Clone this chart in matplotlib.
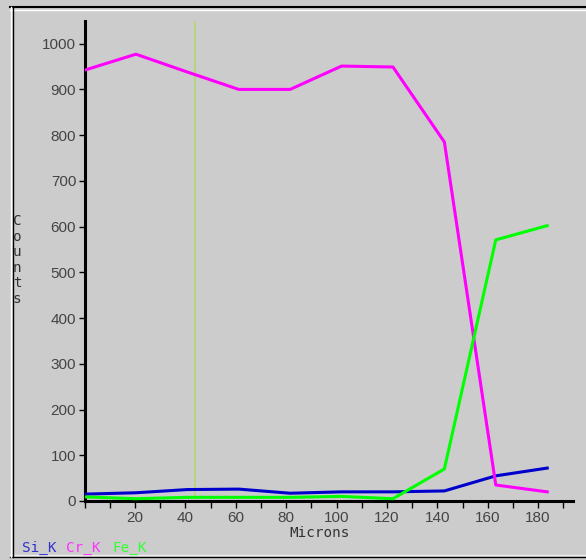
import matplotlib.pyplot as plt
from matplotlib.lines import Line2D

microns = [0, 20.4, 40.8, 61.2, 81.6, 102, 122.4, 142.8, 163.2, 183.6]
si_k = [15, 18, 25, 26, 17, 20, 20, 22, 55, 72]
cr_k = [942, 977, 938, 900, 900, 951, 949, 785, 35, 20]
fe_k = [9, 5, 8, 8, 8, 10, 5, 70, 571, 602]
marker_x = 43.8

bg = '#cccccc'
fig = plt.figure(figsize=(5.86, 5.60), dpi=100, facecolor=bg)
ax = fig.add_axes([84.5 / 586, 59 / 560, 488.9 / 586, 480.2 / 560], facecolor=bg)

ax.plot(microns, si_k, color='#0000cc', lw=2.2, zorder=3)
ax.plot(microns, cr_k, color='#ff00ff', lw=2.2, zorder=3)
ax.plot(microns, fe_k, color='#00ff00', lw=2.2, zorder=3)
ax.axvline(marker_x, color='#b5d67e', lw=1.4, zorder=2)

ax.set_xlim(0, 194)
ax.set_ylim(0, 1050)
ax.set_xticks(range(0, 191, 10))
ax.set_xticklabels([str(v) if v % 20 == 0 and v > 0 else '' for v in range(0, 191, 10)])
ax.set_yticks(range(0, 1001, 100))

for s in ['top', 'right']:
    ax.spines[s].set_visible(False)
for s in ['left', 'bottom']:
    ax.spines[s].set_linewidth(2.2)
    ax.spines[s].set_color('black')
ax.tick_params(axis='both', colors='#444444', labelsize=11, width=1, length=4, pad=2)
ax.tick_params(axis='x', length=5, color='black')
ax.tick_params(axis='y', color='black')
for lab in ax.get_xticklabels() + ax.get_yticklabels():
    lab.set_fontfamily('Liberation Sans')

mono = 'DejaVu Sans Mono'
fs = 10.3
fig.text(320 / 586, 1 - 533 / 560, 'Microns', ha='center', va='center',
         fontsize=fs, family=mono, color='#333333')
fig.text(17 / 586, 1 - 260 / 560, 'C\no\nu\nn\nt\ns', ha='center', va='center',
         fontsize=fs, family=mono, color='#333333', linespacing=1.15)
fig.text(22 / 586, 1 - 548 / 560, 'Si_K', ha='left', va='center',
         fontsize=fs, family=mono, color='#3333cc')
fig.text(66 / 586, 1 - 548 / 560, 'Cr_K', ha='left', va='center',
         fontsize=fs, family=mono, color='#ff33ff')
fig.text(112 / 586, 1 - 548 / 560, 'Fe_K', ha='left', va='center',
         fontsize=fs, family=mono, color='#33ff33')

# window frame
def hline(y, c, w):
    fig.add_artist(Line2D([10 / 586, 1], [1 - y / 560] * 2, color=c, lw=w))

def vline(x, c, w):
    fig.add_artist(Line2D([x / 586] * 2, [1 - 557 / 560, 1 - 7 / 560], color=c, lw=w))

hline(7, 'black', 1.5)
hline(9.5, 'white', 1)
hline(557, 'black', 1)
hline(555, '#eeeeee', 1)
vline(12.5, 'black', 1)
vline(10.5, 'white', 1)

fig.savefig('out.png', dpi=100, facecolor=bg)
